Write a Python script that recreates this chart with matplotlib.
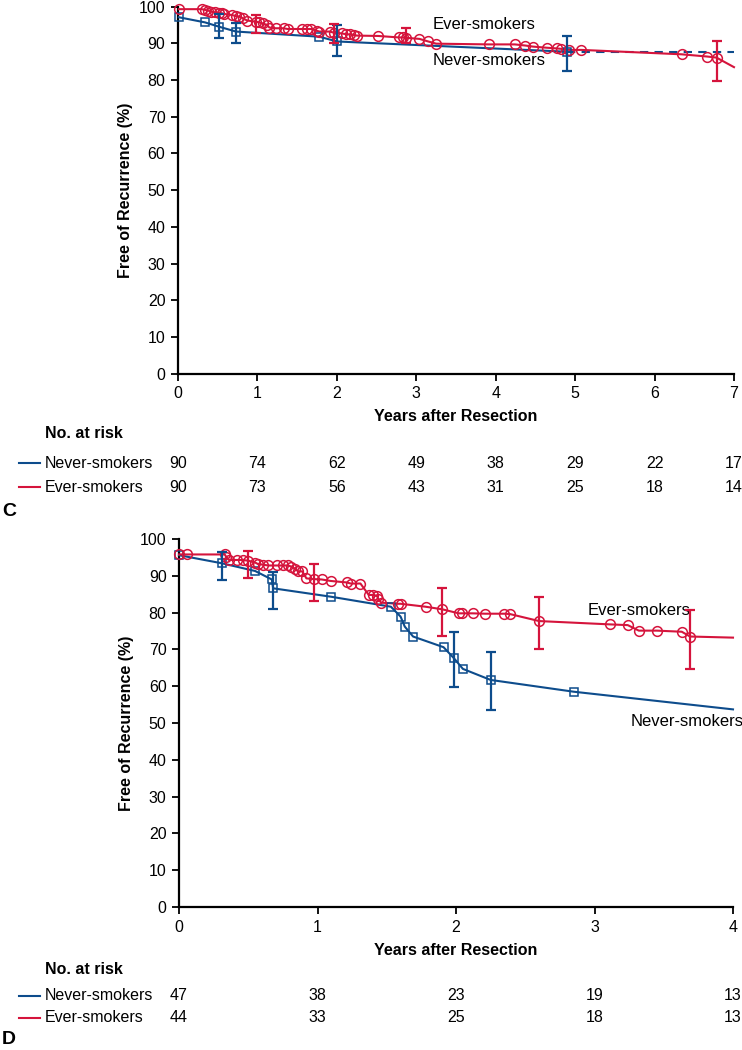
import matplotlib
matplotlib.use('Agg')
import matplotlib.pyplot as plt
from matplotlib.transforms import blended_transform_factory

plt.rcParams['font.family'] = ['Liberation Sans Narrow', 'Liberation Sans', 'DejaVu Sans']

RED = '#d5143c'
BLUE = '#0d4c8c'

# ---- panel C data (years, % free of recurrence) ----
c_ever_t = [0.01, 0.30, 0.34, 0.38, 0.42, 0.47, 0.51, 0.55, 0.58, 0.68, 0.73, 0.77, 0.82, 0.87,
            0.98, 1.02, 1.07, 1.12, 1.15, 1.23, 1.33, 1.38, 1.56, 1.62, 1.68, 1.75, 1.78,
            1.91, 1.96, 2.06, 2.11, 2.17, 2.21, 2.25, 2.52, 2.78, 2.83, 2.87, 3.04, 3.15, 3.25,
            3.91, 4.24, 4.37, 4.47, 4.64, 4.77, 4.82, 4.92, 5.08, 6.34, 6.66, 6.78]
c_ever_s = [99.3, 99.3, 99.1, 98.9, 98.6, 98.4, 98.3, 98.2, 98.0, 97.7, 97.4, 97.3, 96.8, 96.2,
            95.9, 95.7, 95.4, 95.0, 94.3, 94.1, 94.1, 93.9, 93.9, 93.9, 93.9, 93.4, 93.2,
            93.2, 92.9, 92.7, 92.5, 92.4, 92.3, 92.1, 92.0, 91.6, 91.6, 91.5, 91.2, 90.5, 89.9,
            89.7, 89.7, 89.4, 89.1, 88.8, 88.6, 88.5, 88.2, 88.2, 87.0, 86.4, 86.1]
c_ever_end = (7.0, 83.5)
c_ever_err_t = [0.98, 1.96, 2.87, 6.78]
c_ever_err_s = [95.9, 92.9, 91.5, 86.1]
c_ever_err_lo = [92.7, 90.2, 90.2, 79.7]
c_ever_err_hi = [97.7, 95.3, 94.3, 90.7]

c_never_t = [0.01, 0.34, 0.52, 0.73, 1.78, 2.00, 4.90]
c_never_s = [97.1, 95.7, 94.5, 93.2, 91.8, 90.5, 87.7]
c_never_dash = ([4.90, 7.0], [87.6, 87.6])
c_never_err_t = [0.52, 0.73, 2.00, 4.90]
c_never_err_s = [94.5, 93.2, 90.5, 87.7]
c_never_err_lo = [91.5, 90.2, 86.5, 82.5]
c_never_err_hi = [98.0, 95.4, 95.0, 92.1]

c_years = [0, 1, 2, 3, 4, 5, 6, 7]
c_risk_never = [90, 74, 62, 49, 38, 29, 22, 17]
c_risk_ever = [90, 73, 56, 43, 31, 25, 18, 14]

# ---- panel D data ----
d_ever_t = [0.0, 0.055, 0.33, 0.34, 0.36, 0.42, 0.46, 0.50, 0.55, 0.57, 0.61, 0.645, 0.71, 0.75,
            0.79, 0.81, 0.84, 0.86, 0.89, 0.92, 0.975, 1.03, 1.095, 1.21, 1.24, 1.31, 1.37, 1.40,
            1.43, 1.44, 1.46, 1.58, 1.60, 1.78, 1.90, 2.02, 2.04, 2.12, 2.21, 2.35, 2.39, 2.60,
            3.11, 3.24, 3.32, 3.45, 3.63, 3.69]
d_ever_s = [95.8, 95.8, 95.8, 95.2, 94.3, 94.3, 94.3, 94.1, 93.6, 93.2, 93.0, 92.8, 92.8, 92.8,
            92.8, 92.5, 91.9, 91.2, 91.2, 89.3, 89.1, 89.0, 88.6, 88.2, 87.9, 87.9, 84.8, 84.8,
            84.5, 83.6, 82.7, 82.4, 82.4, 81.6, 80.9, 79.8, 79.8, 79.8, 79.7, 79.7, 79.6, 77.7,
            76.8, 76.6, 75.1, 75.1, 74.8, 73.5]
d_ever_end = (4.0, 73.2)
d_ever_err_t = [0.50, 0.975, 1.90, 2.60, 3.69]
d_ever_err_s = [94.1, 89.1, 80.9, 77.7, 73.5]
d_ever_err_lo = [89.5, 83.2, 73.7, 70.1, 64.7]
d_ever_err_hi = [96.8, 93.2, 86.6, 84.2, 80.7]

d_never_t = [0.0, 0.31, 0.55, 0.67, 0.68, 1.10, 1.53, 1.60, 1.63, 1.69, 1.91, 1.985, 2.05, 2.25, 2.85]
d_never_s = [95.6, 93.4, 91.3, 89.0, 86.6, 84.3, 81.6, 78.9, 76.2, 73.5, 70.6, 67.6, 64.7, 61.7, 58.5]
d_never_end = (4.0, 53.7)
d_never_err_t = [0.31, 0.68, 1.985, 2.25]
d_never_err_s = [93.4, 86.6, 67.6, 61.7]
d_never_err_lo = [88.9, 80.9, 59.9, 53.5]
d_never_err_hi = [96.4, 91.1, 74.8, 69.4]

d_years = [0, 1, 2, 3, 4]
d_risk_never = [47, 38, 23, 19, 13]
d_risk_ever = [44, 33, 25, 18, 13]

FS = 11.5


def draw_curve(ax, t, s, end, color, marker, ms):
    lt = list(t) + ([end[0]] if end else [])
    ls = list(s) + ([end[1]] if end else [])
    ax.plot(lt, ls, color=color, lw=1.5, clip_on=False, zorder=3)
    ax.plot(t, s, ls='none', marker=marker, ms=ms, mfc='none', mec=color, mew=1.1,
            clip_on=False, zorder=4)


def draw_err(ax, t, s, lo, hi, color):
    yerr = [[a - b for a, b in zip(s, lo)], [b - a for a, b in zip(s, hi)]]
    ax.errorbar(t, s, yerr=yerr, fmt='none', ecolor=color, elinewidth=1.6, capsize=3.5,
                capthick=1.6, clip_on=False, zorder=5)


def style_axes(ax, xmax):
    ax.set_xlim(0, xmax)
    ax.set_ylim(0, 100)
    ax.set_xticks(range(0, xmax + 1))
    ax.set_yticks(range(0, 101, 10))
    for side in ['top', 'right']:
        ax.spines[side].set_visible(False)
    for side in ['left', 'bottom']:
        ax.spines[side].set_linewidth(1.6)
    ax.tick_params(direction='out', length=5, width=1.3, labelsize=FS, pad=4)
    ax.set_xlabel('Years after Resection', fontsize=FS, fontweight='bold', labelpad=6)
    ax.set_ylabel('Free of Recurrence (%)', fontsize=FS, fontweight='bold', labelpad=4)


def risk_table(fig, ax, years, never, ever, y_head, y_never, y_ever, letter, y_letter):
    tr = blended_transform_factory(ax.transData, fig.transFigure)
    H = 1050.0
    fig.text(45 / 742, 1 - y_head / H, 'No. at risk', fontsize=FS, fontweight='bold', va='center')
    for yy, label, color, vals in [(y_never, 'Never-smokers', BLUE, never),
                                   (y_ever, 'Ever-smokers', RED, ever)]:
        fig.lines.append(plt.Line2D([19 / 742, 40 / 742], [1 - yy / H, 1 - yy / H],
                                    color=color, lw=1.5, transform=fig.transFigure))
        fig.text(45 / 742, 1 - yy / H, label, fontsize=FS, va='center')
        for x, v in zip(years, vals):
            ax.text(x, 1 - yy / H, str(v), transform=tr, fontsize=FS, ha='center', va='center')
    fig.text(2 / 742, 1 - y_letter / H, letter, fontsize=14, fontweight='bold', va='center')


fig = plt.figure(figsize=(7.42, 10.5), dpi=100)

# panel C
ax1 = fig.add_axes([178 / 742, 1 - 373.6 / 1050, 556 / 742, 367 / 1050])
draw_curve(ax1, c_never_t, c_never_s, None, BLUE, 's', 5.5)
ax1.plot(c_never_dash[0], c_never_dash[1], color=BLUE, lw=1.5, ls=(0, (4, 3)), zorder=2)
draw_curve(ax1, c_ever_t, c_ever_s, c_ever_end, RED, 'o', 7)
draw_err(ax1, c_never_err_t, c_never_err_s, c_never_err_lo, c_never_err_hi, BLUE)
draw_err(ax1, c_ever_err_t, c_ever_err_s, c_ever_err_lo, c_ever_err_hi, RED)
style_axes(ax1, 7)
ax1.text(3.21, 95.0, 'Ever-smokers', fontsize=FS + 0.5, va='center')
ax1.text(3.21, 85.2, 'Never-smokers', fontsize=FS + 0.5, va='center')
risk_table(fig, ax1, c_years, c_risk_never, c_risk_ever, 434, 463, 487, 'C', 512)

# panel D
ax2 = fig.add_axes([179 / 742, 1 - 907 / 1050, 554 / 742, 368 / 1050])
draw_curve(ax2, d_never_t, d_never_s, d_never_end, BLUE, 's', 5.5)
draw_curve(ax2, d_ever_t, d_ever_s, d_ever_end, RED, 'o', 7)
draw_err(ax2, d_never_err_t, d_never_err_s, d_never_err_lo, d_never_err_hi, BLUE)
draw_err(ax2, d_ever_err_t, d_ever_err_s, d_ever_err_lo, d_ever_err_hi, RED)
style_axes(ax2, 4)
ax2.text(2.95, 80.7, 'Ever-smokers', fontsize=FS + 0.5, va='center')
ax2.text(3.26, 50.3, 'Never-smokers', fontsize=FS + 0.5, va='center')
risk_table(fig, ax2, d_years, d_risk_never, d_risk_ever, 970, 996, 1018, 'D', 1040)

fig.savefig('out.png', dpi=100)
